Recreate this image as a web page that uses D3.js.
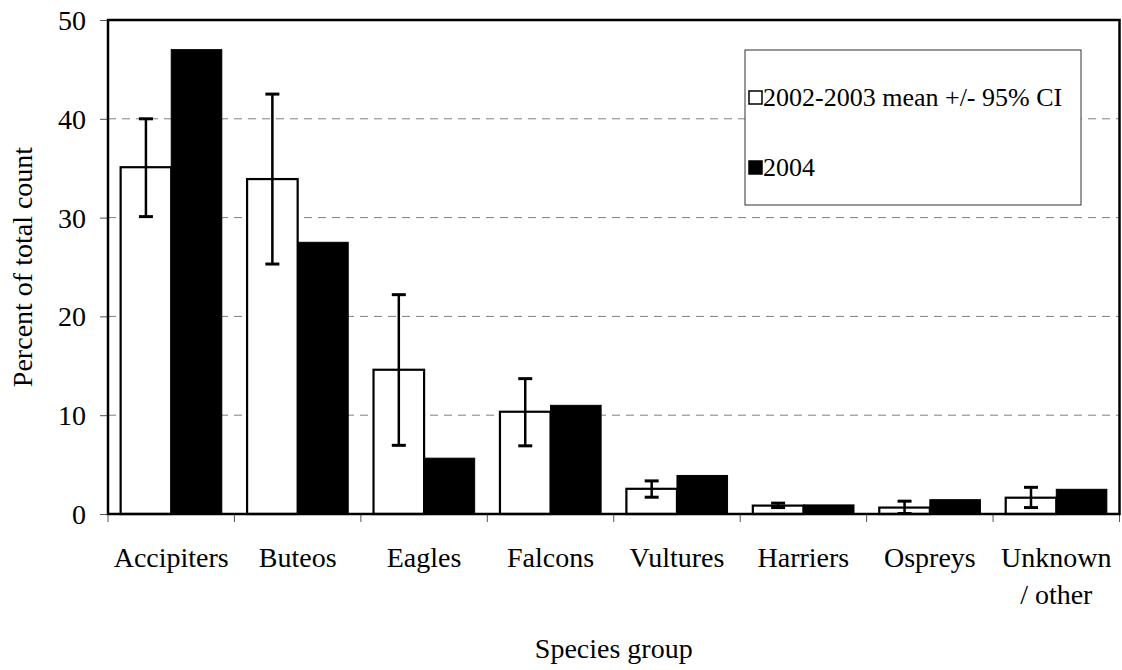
<!DOCTYPE html>
<html>
<head>
<meta charset="utf-8">
<script src="https://cdn.jsdelivr.net/npm/d3@7"></script>
<style>
  html, body { margin: 0; padding: 0; background: #fff; }
  svg text { font-family: "Liberation Serif", "Times New Roman", serif; fill: #000; }
</style>
</head>
<body>
<svg id="chart" width="1122" height="670"></svg>
<script>
// Raptor species-group composition: 2002-2003 mean (with 95% CI) vs 2004
const categories = ["Accipiters", "Buteos", "Eagles", "Falcons", "Vultures", "Harriers", "Ospreys", "Unknown / other"];
const mean0203 = [35.1, 33.9, 14.6, 10.35, 2.55, 0.85, 0.65, 1.65];
const ciLow    = [30.1, 25.3, 6.95, 6.9, 1.7, 0.65, 0.05, 0.65];
const ciHigh   = [40.0, 42.5, 22.2, 13.7, 3.35, 1.1, 1.3, 2.7];
const year2004 = [47.0, 27.5, 5.65, 11.0, 3.9, 0.92, 1.45, 2.5];
const yTicks   = [0, 10, 20, 30, 40, 50];
const seriesNames = ["2002-2003 mean +/- 95% CI", "2004"];

const svg = d3.select("#chart");
const plot = { left: 108, right: 1119.5, top: 20, bottom: 514 };
const FONT = 28;
const LEGEND_FONT = 26;

const x = d3.scaleBand().domain(categories).range([plot.left, plot.right]).padding(0);
const xInner = d3.scaleBand().domain([0, 1]).range([0, x.bandwidth()]).paddingInner(0).paddingOuter(0.25);
const y = d3.scaleLinear().domain([0, 50]).range([plot.bottom, plot.top]);

// dashed horizontal gridlines
svg.append("g").selectAll("line")
  .data(yTicks.filter(t => t > 0 && t < 50))
  .join("line")
  .attr("x1", plot.left).attr("x2", plot.right)
  .attr("y1", d => y(d)).attr("y2", d => y(d))
  .attr("stroke", "#808080").attr("stroke-width", 1)
  .attr("stroke-dasharray", "8,6");

// y axis ticks and labels
const yAxis = d3.axisLeft(y).tickValues(yTicks).tickSize(8).tickPadding(14).tickFormat(d3.format("d"));
const gy = svg.append("g").attr("transform", `translate(${plot.left},0)`).call(yAxis);
gy.select(".domain").remove();
gy.selectAll(".tick line").attr("stroke", "#555").attr("stroke-width", 1);
gy.selectAll(".tick text").style("font-size", FONT + "px").attr("dy", "0.34em");

// category ticks
const boundaries = categories.map(c => x(c)).concat([plot.right]);
svg.append("g").selectAll("line")
  .data(boundaries)
  .join("line")
  .attr("x1", d => d).attr("x2", d => d)
  .attr("y1", plot.bottom).attr("y2", plot.bottom + 8)
  .attr("stroke", "#555").attr("stroke-width", 1);

// bars
const groups = svg.append("g").selectAll("g")
  .data(categories)
  .join("g")
  .attr("transform", d => `translate(${x(d)},0)`);

groups.append("rect")
  .attr("x", xInner(0))
  .attr("width", xInner.bandwidth())
  .attr("y", (d, i) => y(mean0203[i]))
  .attr("height", (d, i) => y(0) - y(mean0203[i]))
  .attr("fill", "#fff").attr("stroke", "#000").attr("stroke-width", 2.2);

groups.append("rect")
  .attr("x", xInner(1))
  .attr("width", xInner.bandwidth())
  .attr("y", (d, i) => y(year2004[i]))
  .attr("height", (d, i) => y(0) - y(year2004[i]))
  .attr("fill", "#000").attr("stroke", "#000").attr("stroke-width", 1);

// 95% CI error bars on the 2002-2003 means
const cx = xInner(0) + xInner.bandwidth() / 2;
const cap = 7;
groups.append("line")
  .attr("x1", cx).attr("x2", cx)
  .attr("y1", (d, i) => y(ciLow[i])).attr("y2", (d, i) => y(ciHigh[i]))
  .attr("stroke", "#000").attr("stroke-width", 2.5);
groups.append("line")
  .attr("x1", cx - cap).attr("x2", cx + cap)
  .attr("y1", (d, i) => y(ciHigh[i])).attr("y2", (d, i) => y(ciHigh[i]))
  .attr("stroke", "#000").attr("stroke-width", 3);
groups.append("line")
  .attr("x1", cx - cap).attr("x2", cx + cap)
  .attr("y1", (d, i) => y(ciLow[i])).attr("y2", (d, i) => y(ciLow[i]))
  .attr("stroke", "#000").attr("stroke-width", 3);

// plot frame
svg.append("rect")
  .attr("x", plot.left).attr("y", plot.top)
  .attr("width", plot.right - plot.left).attr("height", plot.bottom - plot.top)
  .attr("fill", "none").attr("stroke", "#000").attr("stroke-width", 2.5);

// category labels (split on " / " into two lines)
const labels = svg.append("g").selectAll("text")
  .data(categories)
  .join("text")
  .attr("x", d => x(d) + x.bandwidth() / 2)
  .attr("y", 567)
  .attr("text-anchor", "middle")
  .style("font-size", FONT + "px");
labels.each(function(d) {
  const parts = d.split(" / ");
  const t = d3.select(this);
  if (parts.length === 1) {
    t.text(d);
  } else {
    t.append("tspan").attr("x", x(d) + x.bandwidth() / 2).attr("dy", 0).text(parts[0]);
    t.append("tspan").attr("x", x(d) + x.bandwidth() / 2).attr("dy", 37).text("/ " + parts[1]);
  }
});

// axis titles
svg.append("text")
  .attr("x", (plot.left + plot.right) / 2)
  .attr("y", 658)
  .attr("text-anchor", "middle")
  .style("font-size", FONT + "px")
  .text("Species group");

svg.append("text")
  .attr("transform", `translate(32,${(plot.top + plot.bottom) / 2}) rotate(-90)`)
  .attr("text-anchor", "middle")
  .style("font-size", FONT + "px")
  .text("Percent of total count");

// legend
const legend = { x: 745, y: 50, w: 336, h: 155 };
svg.append("rect")
  .attr("x", legend.x).attr("y", legend.y)
  .attr("width", legend.w).attr("height", legend.h)
  .attr("fill", "#fff").attr("stroke", "#333").attr("stroke-width", 1);

const legendRows = [
  { name: seriesNames[0], fill: "#fff", cy: 97 },
  { name: seriesNames[1], fill: "#000", cy: 167 }
];
const lg = svg.append("g").selectAll("g").data(legendRows).join("g");
lg.append("rect")
  .attr("x", legend.x + 4).attr("y", d => d.cy - 6)
  .attr("width", 13).attr("height", 13)
  .attr("fill", d => d.fill).attr("stroke", "#000").attr("stroke-width", 1.5);
lg.append("text")
  .attr("x", legend.x + 18).attr("y", d => d.cy)
  .attr("dy", "0.35em")
  .style("font-size", LEGEND_FONT + "px")
  .text(d => d.name);
</script>
</body>
</html>
